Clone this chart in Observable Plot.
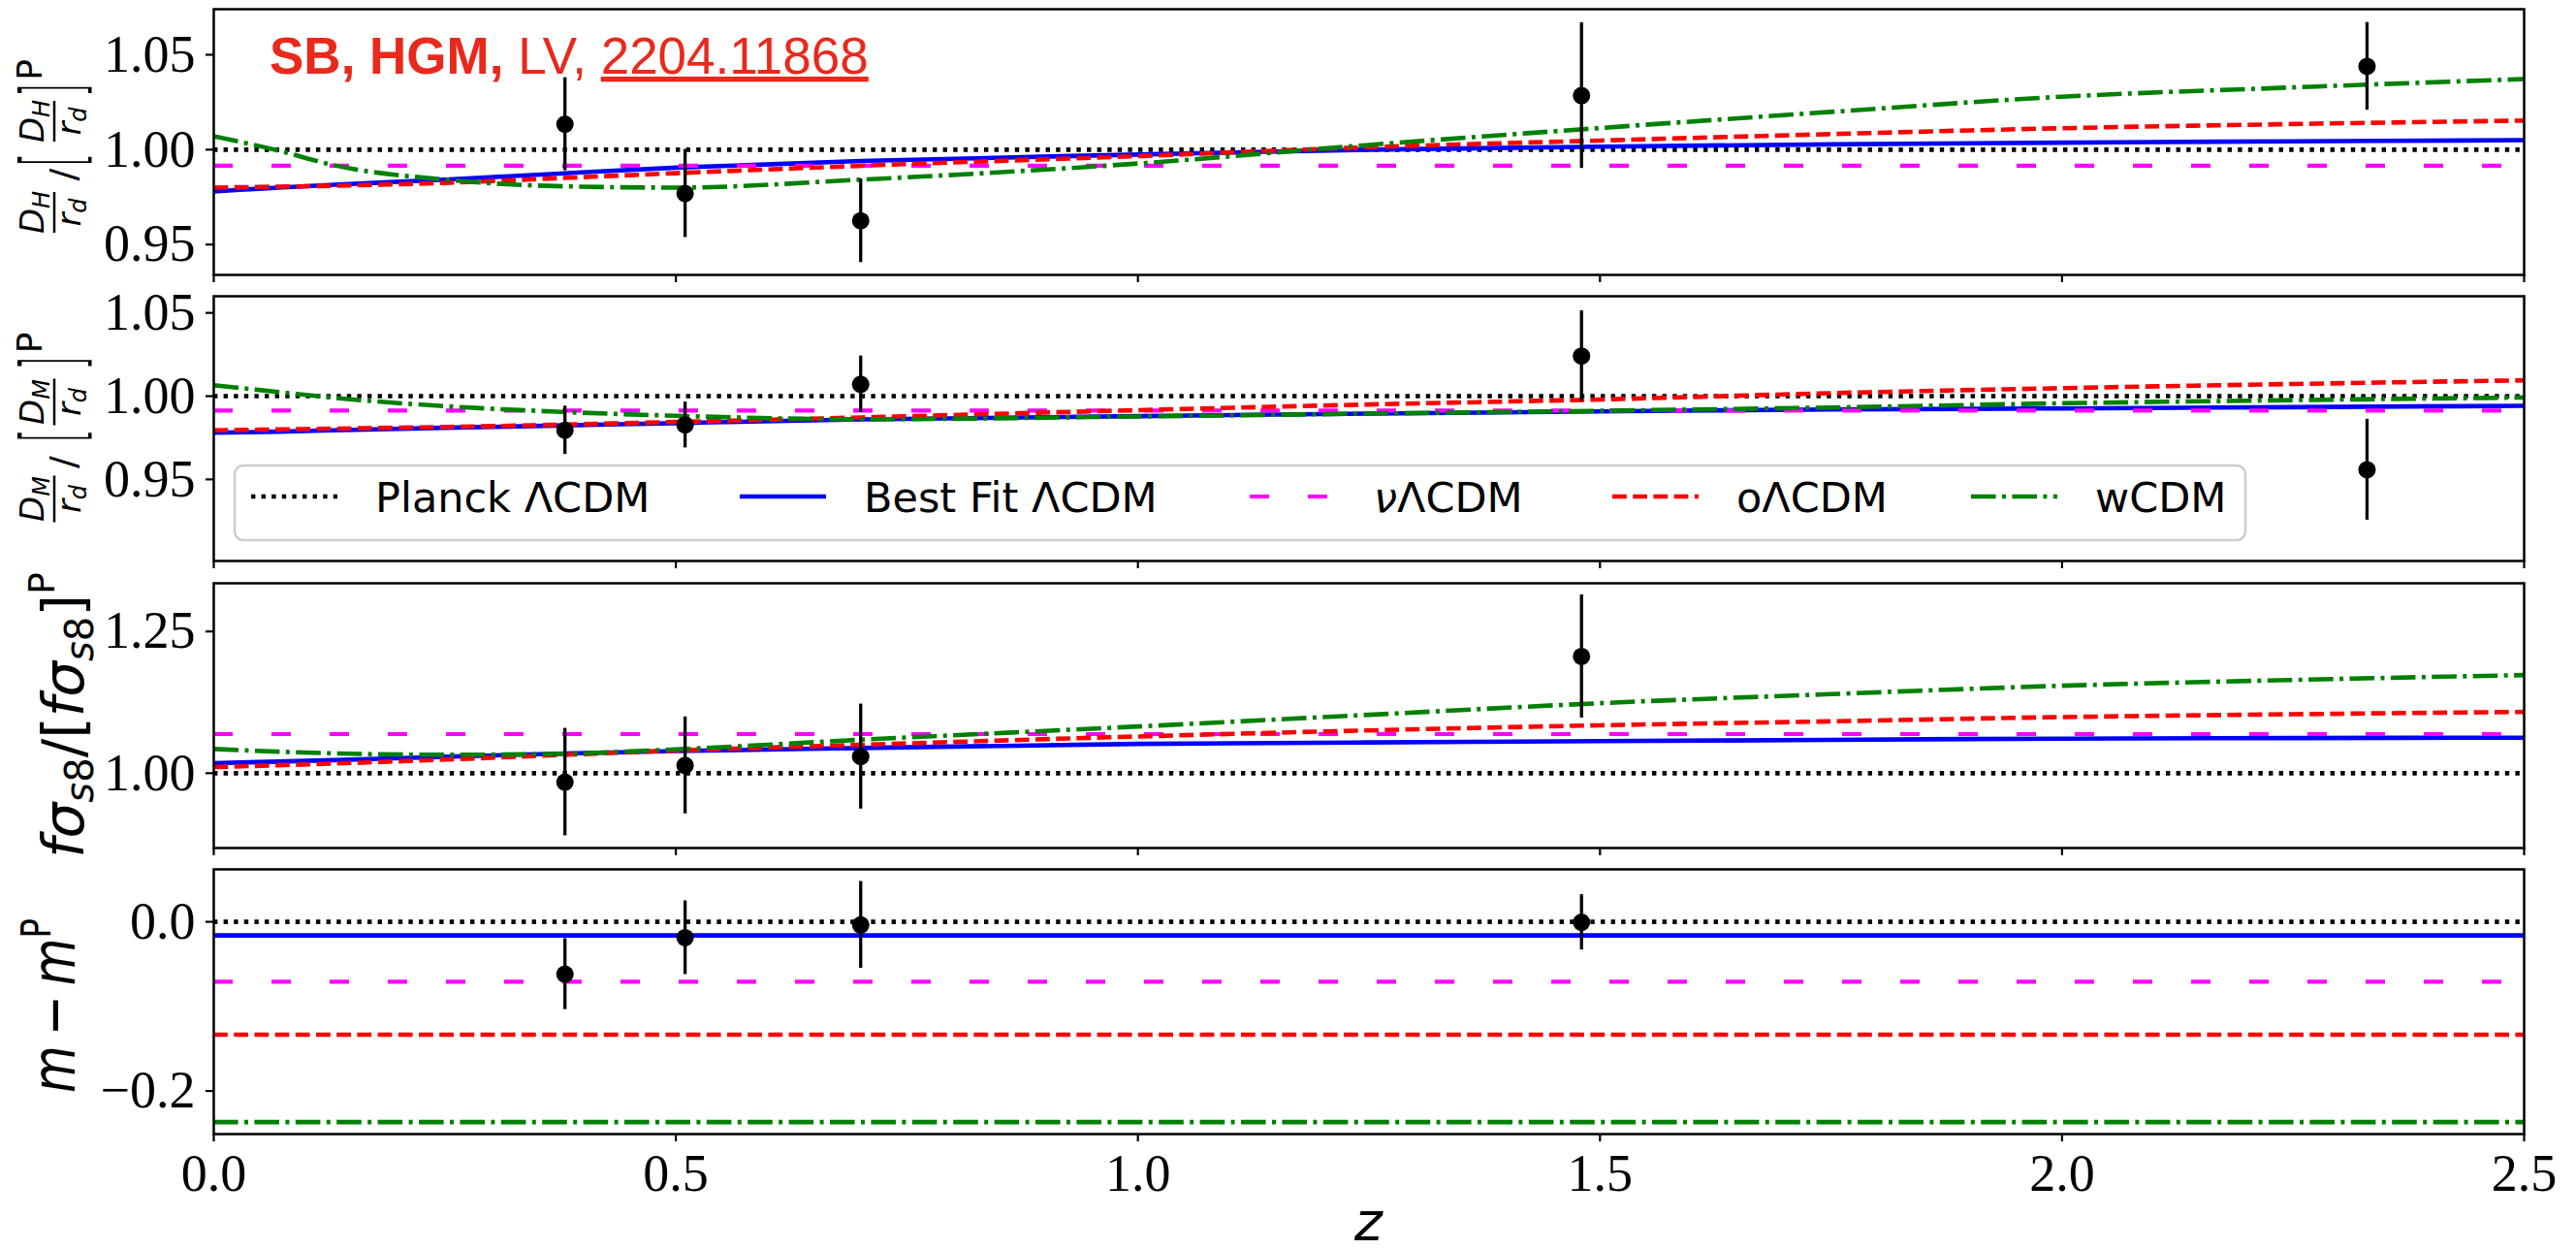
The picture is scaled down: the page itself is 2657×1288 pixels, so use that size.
<!DOCTYPE html>
<html>
<head>
<meta charset="utf-8">
<script src="https://cdn.jsdelivr.net/npm/d3@7"></script>
<script src="https://cdn.jsdelivr.net/npm/@observablehq/plot@0.6"></script>
<style>
html, body { margin: 0; padding: 0; background: #fff; overflow: hidden; }
#chart svg { display: block; }
g[aria-label$="-axis tick"] { stroke-width: 2.2px; }
</style>
</head>
<body>
<div id="chart"></div>
<script>
// ---------------- data ----------------
const zGrid = [0, 0.07, 0.13, 0.25, 0.37, 0.5, 0.7, 1.0, 1.25, 1.5, 1.75, 2.0, 2.25, 2.5];
const xTicks = [0, 0.5, 1.0, 1.5, 2.0, 2.5];

// Panel 1: D_H / r_d relative to Planck
const dhBest = [0.9780, 0.9800, 0.9815, 0.9842, 0.9873, 0.9905, 0.9940, 0.9974, 1.0000, 1.0016, 1.0028, 1.0037, 1.0044, 1.0050];
const dhO    = [0.9800, 0.9805, 0.9810, 0.9825, 0.9849, 0.9876, 0.9915, 0.9966, 1.0013, 1.0048, 1.0082, 1.0113, 1.0135, 1.0153];
const dhW    = [1.0071, 0.9995, 0.9918, 0.9842, 0.9808, 0.9800, 0.9842, 0.9927, 1.0025, 1.0114, 1.0199, 1.0279, 1.0328, 1.0372];
const dhNu = 0.9915;

// Panel 2: D_M / r_d relative to Planck
const dmBest = [0.9780, 0.9787, 0.9795, 0.9810, 0.9823, 0.9838, 0.9860, 0.9880, 0.9895, 0.9908, 0.9920, 0.9926, 0.9934, 0.9942];
const dmO    = [0.9795, 0.9800, 0.9805, 0.9815, 0.9828, 0.9845, 0.9872, 0.9916, 0.9950, 0.9980, 1.0018, 1.0048, 1.0073, 1.0095];
const dmW    = [1.0066, 1.0025, 0.9990, 0.9940, 0.9907, 0.9882, 0.9861, 0.9878, 0.9895, 0.9912, 0.9932, 0.9957, 0.9976, 0.9992];
const dmNu = 0.9913;

// Panel 3: f sigma_s8 relative to Planck
const fsBest = [1.0176, 1.0205, 1.0230, 1.0290, 1.0343, 1.0390, 1.0444, 1.0516, 1.0543, 1.0565, 1.0588, 1.0610, 1.0620, 1.0627];
const fsO    = [1.0108, 1.0140, 1.0170, 1.0240, 1.0318, 1.0400, 1.0500, 1.0648, 1.0755, 1.0845, 1.0915, 1.0990, 1.1040, 1.1082];
const fsW    = [1.0427, 1.0380, 1.0350, 1.0325, 1.0340, 1.0420, 1.0590, 1.0824, 1.1030, 1.1235, 1.1395, 1.1543, 1.1645, 1.1731];
const fsNu = 1.069;

// Panel 4: m - m^P (constants)
const mBest = -0.0161, mNu = -0.0708, mO = -0.1335, mW = -0.2368;

// Observations
const obsZ  = [0.38, 0.51, 0.70, 1.48, 2.33];
const dhObs = [1.0134, 0.9769, 0.9625, 1.0285, 1.0439];
const dhErr = [0.0245, 0.0232, 0.0220, 0.0384, 0.0231];
const dmObs = [0.9795, 0.9827, 1.0071, 1.0241, 0.9558];
const dmErr = [0.0145, 0.0138, 0.0170, 0.0272, 0.0303];
const fsObs = [0.9843, 1.0137, 1.0293, 1.2059];
const fsErr = [0.0948, 0.0855, 0.0926, 0.1085];
const mObs  = [-0.0619, -0.0188, -0.0037, -0.0006];
const mErr  = [0.0419, 0.0436, 0.0514, 0.0327];

const legendLabels = ["Planck ΛCDM", "Best Fit ΛCDM", "νΛCDM", "oΛCDM", "wCDM"];

// ---------------- styles ----------------
const S = {
  planck: {stroke: "#000000", strokeWidth: 4.6, strokeDasharray: "4.4,6.2", strokeLinecap: "butt"},
  best:   {stroke: "#0000ff", strokeWidth: 4.6, strokeLinecap: "butt"},
  nu:     {stroke: "#ff00ff", strokeWidth: 4.2, strokeDasharray: "20,40", strokeLinecap: "butt"},
  o:      {stroke: "#ff0000", strokeWidth: 4.6, strokeDasharray: "14.8,6.4", strokeLinecap: "butt"},
  w:      {stroke: "#008000", strokeWidth: 4.6, strokeDasharray: "25.6,6.4,4,6.4", strokeLinecap: "butt"}
};
const legendStyles = [S.planck, S.best, S.nu, S.o, S.w];
const W = 2657;
const titleColor = "#e8291c";

function gmark(build) {
  return () => { const g = d3.create("svg:g"); build(g); return g.node(); };
}

function panel(o) {
  const line = (arr, st) => Array.isArray(arr)
    ? Plot.line(zGrid.map((z, i) => ({z, v: arr[i]})), {x: "z", y: "v", curve: "monotone-x", ...st})
    : Plot.ruleY([arr], st);
  const pts = o.obsV.map((v, i) => ({z: obsZ[i], v, e: o.obsE[i]}));
  return Plot.plot({
    width: W, height: o.height,
    marginLeft: 220, marginRight: 54, marginTop: o.mt, marginBottom: o.mb,
    style: {fontFamily: "Liberation Serif", fontSize: "54px", color: "black", background: "white", overflow: "visible"},
    x: {domain: [0, 2.5], ticks: xTicks, tickSize: 8, tickPadding: 12, label: null,
        tickFormat: o.showX ? d3.format(".1f") : () => ""},
    y: {domain: o.yDomain, ticks: o.yTicks, tickSize: 8, tickPadding: 11, label: null,
        tickFormat: d3.format(o.yFormat)},
    marks: [
      line(o.planck, S.planck),
      line(o.best, S.best),
      line(o.nu, S.nu),
      line(o.o, S.o),
      line(o.w, S.w),
      Plot.ruleX(pts, {x: "z", y1: d => d.v - d.e, y2: d => d.v + d.e, stroke: "black", strokeWidth: 3.3}),
      Plot.dot(pts, {x: "z", y: "v", r: 9, fill: "black", stroke: "none"}),
      Plot.frame({stroke: "black", strokeWidth: 2.5}),
      ...(o.extras || [])
    ]
  });
}

// rotated fraction-style y label: X_sub/r_d / [X_sub/r_d]^P
function fracLabel(g, bx, cy, sub, L) {
  const t = g.append("g").attr("transform", `translate(${bx},${cy}) rotate(-90)`)
    .attr("font-family", "DejaVu Sans").attr("fill", "black").attr("text-anchor", "middle");
  const frac = (xc, w) => {
    const n = t.append("text").attr("x", xc).attr("y", -33)
      .attr("font-size", 34).attr("font-style", "italic");
    n.append("tspan").text("D");
    n.append("tspan").attr("font-size", 24).attr("dy", 6).text(sub);
    const d = t.append("text").attr("x", xc).attr("y", 5)
      .attr("font-size", 34).attr("font-style", "italic");
    d.append("tspan").text("r");
    d.append("tspan").attr("font-size", 24).attr("dy", 6).text("d");
    t.append("line").attr("x1", xc - w / 2).attr("x2", xc + w / 2).attr("y1", -22).attr("y2", -22)
      .attr("stroke", "black").attr("stroke-width", 2.5);
  };
  frac(L.f1, L.w);
  t.append("text").attr("x", L.sl).attr("y", 0).attr("font-size", 38).text("/");
  t.append("text").attr("transform", `translate(${L.lb},5) scale(0.45,1)`)
    .attr("font-size", 86).attr("font-weight", 300).text("[");
  frac(L.f2, L.w);
  t.append("text").attr("transform", `translate(${L.rb},5) scale(0.45,1)`)
    .attr("font-size", 86).attr("font-weight", 300).text("]");
  t.append("text").attr("x", L.p).attr("y", -35).attr("font-size", 36).text("P");
}

const title = gmark(g => {
  const t = g.append("text").attr("x", 278).attr("y", 76).attr("text-anchor", "start")
    .attr("font-family", "Liberation Sans").attr("font-size", 53).attr("fill", titleColor).style("white-space", "pre");
  t.append("tspan").attr("font-weight", "bold").text("SB, HGM, ");
  t.append("tspan").text("LV, ");
  t.append("tspan").attr("text-decoration", "underline").text("2204.11868");
});

const label1 = gmark(g => fracLabel(g, 78, 146, "H", {f1: -73, sl: -34, lb: -19, f2: 21, rb: 53, p: 74, w: 42}));
const label2 = gmark(g => fracLabel(g, 78, 147.5, "M", {f1: -73, sl: -35, lb: -8, f2: 27, rb: 67, p: 88, w: 48}));

const label3 = gmark(g => {
  const t = g.append("text").attr("transform", "translate(86,148.5) rotate(-90)").attr("text-anchor", "middle")
    .attr("font-family", "DejaVu Sans").attr("font-size", 58).attr("fill", "black");
  t.append("tspan").attr("font-style", "italic").text("fσ");
  t.append("tspan").attr("font-style", "italic").attr("font-size", 40).attr("dy", 10).text("s");
  t.append("tspan").attr("font-size", 40).text("8");
  t.append("tspan").attr("dy", -10).text("/[");
  t.append("tspan").attr("font-style", "italic").text("fσ");
  t.append("tspan").attr("font-style", "italic").attr("font-size", 40).attr("dy", 10).text("s");
  t.append("tspan").attr("font-size", 40).text("8");
  t.append("tspan").attr("dy", -10).text("]");
  t.append("tspan").attr("font-size", 38).attr("dy", -30).text("P");
});

const label4 = gmark(g => {
  const t = g.append("text").attr("transform", "translate(77,152) rotate(-90) scale(1,1.25)").attr("text-anchor", "middle")
    .attr("font-family", "DejaVu Sans").attr("font-size", 50).attr("fill", "black").style("white-space", "pre");
  t.append("tspan").attr("font-style", "italic").text("m");
  t.append("tspan").text("\u2009\u2212\u2009");
  t.append("tspan").attr("font-style", "italic").text("m");
  t.append("tspan").attr("font-size", 34).attr("dy", -20).text("P");
});

const legend = gmark(g => {
  g.append("rect").attr("x", 242).attr("y", 186).attr("width", 2074).attr("height", 77).attr("rx", 9)
    .attr("fill", "white").attr("fill-opacity", 0.8).attr("stroke", "#cccccc").attr("stroke-width", 2.5);
  const sx = [259, 763, 1289, 1663, 2033];
  legendLabels.forEach((lab, i) => {
    const st = legendStyles[i];
    g.append("line").attr("x1", sx[i]).attr("x2", sx[i] + 89).attr("y1", 218).attr("y2", 218)
      .attr("stroke", st.stroke).attr("stroke-width", st.strokeWidth)
      .attr("stroke-dasharray", st.strokeDasharray || null);
    const t = g.append("text").attr("x", sx[i] + 128).attr("y", 234).attr("text-anchor", "start")
      .attr("font-family", "DejaVu Sans").attr("font-size", 43).attr("fill", "black");
    if (lab.startsWith("ν")) {
      t.append("tspan").attr("font-style", "italic").text("ν");
      t.append("tspan").text(lab.slice(1));
    } else t.text(lab);
  });
});

const xlabel = gmark(g => {
  g.append("text").attr("x", 1411.5).attr("y", 394).attr("text-anchor", "middle").attr("font-family", "DejaVu Sans")
    .attr("font-style", "italic").attr("font-size", 55).attr("fill", "black").text("z");
});

const chart = document.getElementById("chart");
chart.append(panel({height: 294, mt: 9, mb: 11, yDomain: [0.934, 1.074], yTicks: [0.95, 1.00, 1.05], yFormat: ".2f",
  planck: 1, best: dhBest, nu: dhNu, o: dhO, w: dhW, obsV: dhObs, obsE: dhErr, showX: false, extras: [label1, title]}));
chart.append(panel({height: 295, mt: 11, mb: 11, yDomain: [0.901, 1.060], yTicks: [0.95, 1.00, 1.05], yFormat: ".2f",
  planck: 1, best: dmBest, nu: dmNu, o: dmO, w: dmW, obsV: dmObs, obsE: dmErr, showX: false, extras: [label2, legend]}));
chart.append(panel({height: 296, mt: 12, mb: 11, yDomain: [0.868, 1.335], yTicks: [1.00, 1.25], yFormat: ".2f",
  planck: 1, best: fsBest, nu: fsNu, o: fsO, w: fsW, obsV: fsObs, obsE: fsErr, showX: false, extras: [label3]}));
chart.append(panel({height: 403, mt: 11, mb: 119, yDomain: [-0.251, 0.062], yTicks: [-0.2, 0.0], yFormat: ".1f",
  planck: 0, best: mBest, nu: mNu, o: mO, w: mW, obsV: mObs, obsE: mErr, showX: true, extras: [label4, xlabel]}));
</script>
</body>
</html>
